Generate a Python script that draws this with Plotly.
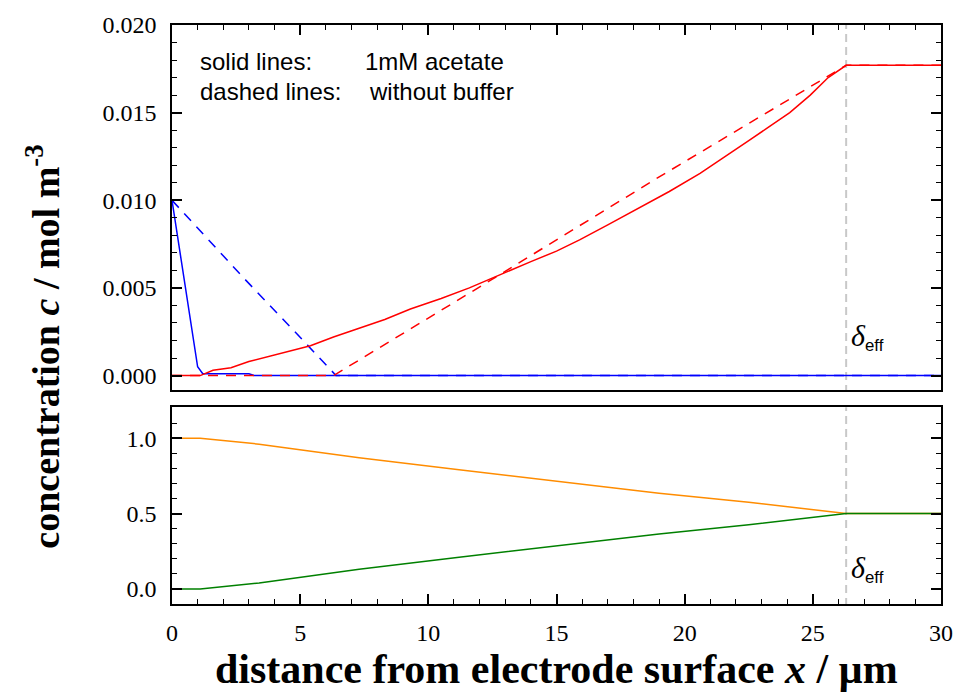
import plotly.graph_objects as go

# ---- data (x in µm) ----
x_red_acetate = [0, 1.1, 1.6, 2.3, 3.0, 3.8, 4.6, 5.4, 6.3, 7.3, 8.3, 9.3, 10.5, 11.6, 12.8, 14.0,
                 15.0, 15.9, 17.0, 18.2, 19.4, 20.6, 21.5, 22.5, 23.3, 24.1, 24.9, 25.6, 26.3, 30]
y_red_acetate = [0, 0, 0.0003, 0.00045, 0.0008, 0.0011, 0.0014, 0.0017, 0.0022, 0.0027, 0.0032,
                 0.0038, 0.0044, 0.0050, 0.00576, 0.0065, 0.0071, 0.00774, 0.0086, 0.00955, 0.0105,
                 0.01153, 0.0124, 0.0134, 0.0142, 0.0150, 0.0160, 0.0170, 0.0177, 0.0177]

x_red_nobuf = [0, 6.3, 12.5, 18.9, 26.3, 30]
y_red_nobuf = [0, 0, 0.0055, 0.01124, 0.0177, 0.0177]

x_blue_acetate = [0, 0.5, 1.0, 1.2, 1.5, 3.0, 3.2, 30]
y_blue_acetate = [0.0100, 0.0052, 0.0005, 0.0001, 0.0001, 0.0001, 0, 0]

x_blue_nobuf = [0, 0.7, 2.84, 4.86, 6.4, 30]
y_blue_nobuf = [0.0100, 0.0089, 0.0055, 0.0024, 0, 0]

x_frac = [0, 1.1, 3.4, 7.3, 11.2, 15.0, 19.0, 22.5, 24.2, 26.3, 30]
y_orange = [1.0, 1.0, 0.96, 0.87, 0.79, 0.715, 0.635, 0.575, 0.54, 0.5, 0.5]
y_green = [0.0, 0.0, 0.04, 0.13, 0.21, 0.285, 0.365, 0.425, 0.46, 0.5, 0.5]

delta_eff = 26.3

x_ticks = [0, 5, 10, 15, 20, 25, 30]
top_yticks = [0.000, 0.005, 0.010, 0.015, 0.020]
bot_yticks = [0.0, 0.5, 1.0]

RED = "#ff0000"
BLUE = "#0000ff"
ORANGE = "#ff8c00"
GREEN = "#008000"
GREY = "#c8c8c8"
LW = 1.5

fig = go.Figure()

# top panel
fig.add_trace(go.Scatter(x=[delta_eff, delta_eff], y=[-0.001, 0.021], mode="lines",
                         line=dict(color=GREY, width=2, dash="8px,5px"),
                         xaxis="x2", yaxis="y2", hoverinfo="skip"))
fig.add_trace(go.Scatter(x=x_blue_acetate, y=y_blue_acetate, mode="lines",
                         line=dict(color=BLUE, width=LW), xaxis="x2", yaxis="y2"))
fig.add_trace(go.Scatter(x=x_blue_nobuf, y=y_blue_nobuf, mode="lines",
                         line=dict(color=BLUE, width=LW, dash="10px,8px"), xaxis="x2", yaxis="y2"))
fig.add_trace(go.Scatter(x=x_red_acetate, y=y_red_acetate, mode="lines",
                         line=dict(color=RED, width=LW), xaxis="x2", yaxis="y2"))
fig.add_trace(go.Scatter(x=x_red_nobuf, y=y_red_nobuf, mode="lines",
                         line=dict(color=RED, width=LW, dash="10px,8px"), xaxis="x2", yaxis="y2"))

# bottom panel
fig.add_trace(go.Scatter(x=[delta_eff, delta_eff], y=[-0.2, 1.3], mode="lines",
                         line=dict(color=GREY, width=2, dash="8px,5px"),
                         xaxis="x", yaxis="y", hoverinfo="skip"))
fig.add_trace(go.Scatter(x=x_frac, y=y_orange, mode="lines",
                         line=dict(color=ORANGE, width=LW), xaxis="x", yaxis="y"))
fig.add_trace(go.Scatter(x=x_frac, y=y_green, mode="lines",
                         line=dict(color=GREEN, width=LW), xaxis="x", yaxis="y"))

tickfont = dict(family="Liberation Serif", size=24, color="black")
common_axis = dict(showline=True, linecolor="black", linewidth=1.5, ticks="inside",
                   ticklen=10, tickwidth=1.5, tickcolor="black", showgrid=False,
                   zeroline=False, tickfont=tickfont)

fig.update_layout(
    width=965, height=696,
    margin=dict(l=172, r=22, t=21, b=92),
    paper_bgcolor="white", plot_bgcolor="white",
    showlegend=False,
    xaxis=dict(**common_axis, range=[0, 30], tickvals=x_ticks, mirror=True,
               minor=dict(ticks="inside", dtick=1, tick0=0, ticklen=5, tickwidth=1.2, tickcolor="black"),
               anchor="y", domain=[0, 1], ticklabelstandoff=6),
    yaxis=dict(**common_axis, range=[-0.1, 1.204], tickvals=bot_yticks, tickformat=".1f",
               mirror="ticks", domain=[0, 0.3396], anchor="x",
               minor=dict(ticks="inside", dtick=0.1, tick0=0, ticklen=5, tickwidth=1.2, tickcolor="black"),
               ticklabelstandoff=9),
    xaxis2=dict(**common_axis, range=[0, 30], tickvals=x_ticks, mirror=True, side="top",
                showticklabels=False, anchor="y2", matches="x",
                minor=dict(ticks="inside", dtick=1, tick0=0, ticklen=5, tickwidth=1.2, tickcolor="black")),
    yaxis2=dict(**common_axis, range=[-0.00085, 0.0200], tickvals=top_yticks, tickformat=".3f",
                mirror="ticks", domain=[0.3688, 1], anchor="x2",
                minor=dict(ticks="inside", dtick=0.001, tick0=0, ticklen=5, tickwidth=1.2, tickcolor="black"),
                ticklabelstandoff=9),
)

ann_font = dict(family="Liberation Sans", size=24, color="black")
delta_text = '<span style="font-family:Liberation Serif;font-size:30px"><i>δ</i></span><sub>eff</sub>'
annotations = [
    dict(x=1.01, y=0.0179, xref="x2", yref="y2", text="solid lines:", showarrow=False,
         xanchor="left", yanchor="middle", font=ann_font),
    dict(x=7.47, y=0.0179, xref="x2", yref="y2", text="1mM acetate", showarrow=False,
         xanchor="left", yanchor="middle", font=ann_font),
    dict(x=1.01, y=0.0162, xref="x2", yref="y2", text="dashed lines:", showarrow=False,
         xanchor="left", yanchor="middle", font=ann_font),
    dict(x=7.59, y=0.0162, xref="x2", yref="y2", text="without buffer", showarrow=False,
         xanchor="left", yanchor="middle", font=ann_font),
    dict(x=26.4, y=0.0022, xref="x2", yref="y2", text=delta_text,
         showarrow=False, xanchor="left", yanchor="middle", font=ann_font),
    dict(x=26.4, y=0.13, xref="x", yref="y", text=delta_text,
         showarrow=False, xanchor="left", yanchor="middle", font=ann_font),
    dict(x=0.5, xref="paper", y=-0.113, yref="paper",
         text="distance from electrode surface <i>x</i> / µm",
         showarrow=False, xanchor="center", yanchor="middle",
         font=dict(family="Liberation Serif", size=42, color="black", weight="bold")),
    dict(x=-0.168, xref="paper", y=0.444, yref="paper",
         text="concentration <i>c</i> / mol m<sup>-3</sup>",
         showarrow=False, xanchor="center", yanchor="middle", textangle=-90,
         font=dict(family="Liberation Serif", size=38, color="black", weight="bold")),
]
fig.update_layout(annotations=annotations)

fig.write_html("out.html")
